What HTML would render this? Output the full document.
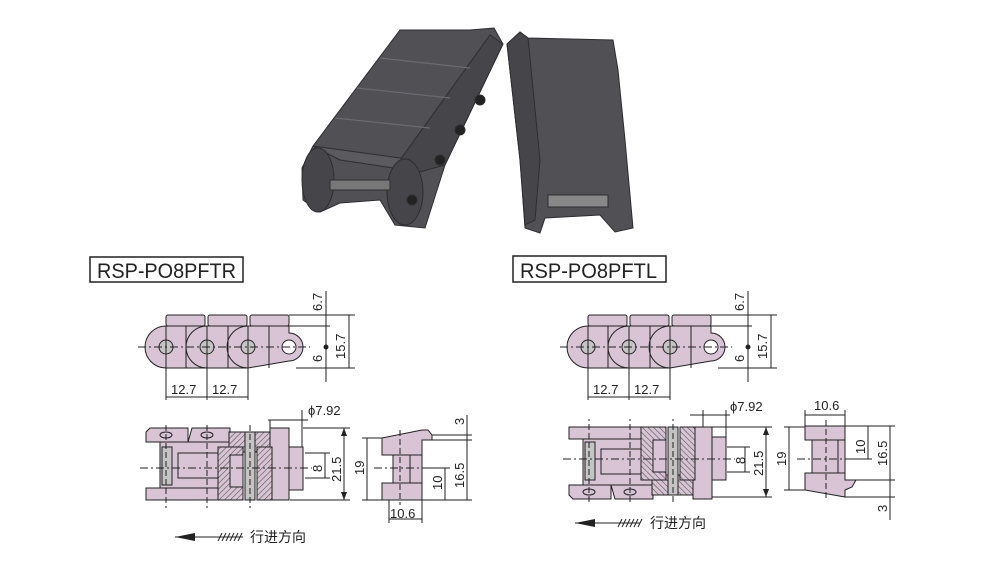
<!DOCTYPE html>
<html><head><meta charset="utf-8"><style>
html,body{margin:0;padding:0;background:#fff;}
svg{display:block;}
text{font-family:"Liberation Sans","Noto Sans CJK SC",sans-serif;fill:#222;}
</style></head><body>
<svg width="1000" height="567" viewBox="0 0 1000 567" xmlns="http://www.w3.org/2000/svg">
<defs>
<pattern id="h" width="4" height="4" patternUnits="userSpaceOnUse" patternTransform="rotate(45)">
<rect width="4" height="4" fill="#d8c4d4"/><line x1="0" y1="0" x2="0" y2="4" stroke="#555" stroke-width="1.2"/>
</pattern>
<marker id="a" markerWidth="8" markerHeight="6" refX="8" refY="3" orient="auto-start-reverse" markerUnits="userSpaceOnUse">
<path d="M0,0 L8,3 L0,6 Z" fill="#222"/></marker>
<g id="top" stroke="#222" stroke-width="1" fill="#d8c4d4">
<rect x="166" y="315" width="39" height="11" rx="2"/>
<rect x="208" y="315" width="39" height="11" rx="2"/>
<rect x="250" y="315" width="39" height="11" rx="2"/>
<path d="M166 326 A21 21 0 0 0 166 368 L207 368 L207 326 Z"/>
<path d="M207 326 A21 21 0 0 0 207 368 L248 368 L248 326 Z"/>
<path d="M248 326 A21 21 0 0 0 248 368 L289 361 A14 14 0 0 0 289 333 L289 326 Z"/>
<line x1="186" y1="326" x2="186" y2="368"/><line x1="228" y1="326" x2="228" y2="368"/><line x1="269" y1="326" x2="269" y2="368"/>
<circle cx="166" cy="347" r="7" fill="#c4c4c4"/><circle cx="207" cy="347" r="7" fill="#c4c4c4"/><circle cx="248" cy="347" r="7" fill="#c4c4c4"/>
<circle cx="289" cy="347" r="7" fill="#fff"/>
<line x1="138" y1="347" x2="310" y2="347" stroke-dasharray="8 3 2 3"/>
<line x1="166" y1="326" x2="166" y2="400"/><line x1="207" y1="326" x2="207" y2="400"/><line x1="248" y1="326" x2="248" y2="400"/>
<line x1="289" y1="315" x2="355" y2="315"/><line x1="289" y1="326" x2="330" y2="326"/><line x1="296" y1="368" x2="355" y2="368"/>
<line x1="326" y1="291" x2="326" y2="382"/><line x1="349" y1="315" x2="349" y2="368"/>
<circle cx="326" cy="347" r="2" fill="#222"/>
<line x1="166" y1="397" x2="248" y2="397"/>
</g>
<g id="bot" stroke="#222" stroke-width="1" fill="#d8c4d4">
<path d="M150 428 L188 428 L188 442 L146 442 L146 432 Z"/>
<path d="M192 428 L230 428 L230 442 L188 442 Z"/>
<rect x="146" y="488" width="84" height="12"/>
<path d="M160 442 L230 442 L230 488 L160 488 Z"/>
<path d="M178 453 L230 453 L230 478 L178 478 Z"/>
<rect x="162" y="447" width="10" height="38" fill="#c4c4c4"/>
<rect x="270" y="428" width="19" height="72"/>
<rect x="289" y="447" width="14" height="43"/>
<rect x="229" y="432" width="41" height="20" fill="url(#h)"/>
<rect x="218" y="447" width="25" height="53" fill="url(#h)"/>
<rect x="257" y="447" width="15" height="53" fill="url(#h)"/>
<rect x="230" y="455" width="13" height="32"/>
<rect x="245" y="432" width="10" height="68" fill="#c4c4c4"/>
<ellipse cx="166" cy="435" rx="6" ry="3"/><ellipse cx="207" cy="435" rx="6" ry="3"/>
<line x1="140" y1="468" x2="312" y2="468" stroke-dasharray="8 3 2 3"/>
<line x1="166" y1="425" x2="166" y2="508" stroke-dasharray="6 3"/><line x1="207" y1="425" x2="207" y2="508" stroke-dasharray="6 3"/><line x1="250" y1="425" x2="250" y2="508" stroke-dasharray="6 3"/>
</g>
<g id="side" stroke="#222" stroke-width="1" fill="#d8c4d4">
<path d="M382 438 L422 430 L428 430 L432 435 L432 440 L422 440 L422 455 L382 455 Z"/>
<rect x="393" y="455" width="29" height="28"/>
<line x1="410" y1="455" x2="410" y2="483"/>
<rect x="382" y="483" width="40" height="17"/>
<line x1="374" y1="468" x2="432" y2="468" stroke-dasharray="8 3 2 3"/>
<line x1="400" y1="430" x2="400" y2="505" stroke-dasharray="6 3"/>
</g>
</defs>

<!-- photo -->
<g fill="#505055" stroke="#2e2e32" stroke-width="1">
<path d="M313 146 L400 30 L470 30 L494 28 L503 44 L445 165 L425 228 L395 225 L380 200 L340 203 L320 212 L303 200 L302 168 Z"/>
<path d="M400 160 L490 35 L503 44 L445 165 L420 172 Z" fill="#46464a"/>
<path d="M313 146 L400 158 L420 172 L340 160 Z" fill="#5a5a5f"/>
<g stroke="#6a6a70" stroke-width="1.2" fill="none">
<line x1="335" y1="118" x2="430" y2="128"/><line x1="357" y1="88" x2="450" y2="98"/><line x1="380" y1="58" x2="470" y2="68"/>
<line x1="525" y1="85" x2="618" y2="78"/><line x1="528" y1="120" x2="622" y2="113"/><line x1="530" y1="155" x2="626" y2="148"/>
</g>
<ellipse cx="318" cy="180" rx="16" ry="32" fill="#45454a"/>
<ellipse cx="405" cy="192" rx="18" ry="33" fill="#45454a"/>
<circle cx="412" cy="200" r="5" fill="#222"/><circle cx="440" cy="160" r="5" fill="#222"/><circle cx="460" cy="130" r="5" fill="#222"/><circle cx="480" cy="100" r="5" fill="#222"/>
<rect x="330" y="180" width="60" height="10" fill="#777"/>
<path d="M507 44 L520 32 L528 38 L613 40 L618 70 L625 140 L633 228 L615 232 L600 215 L545 218 L540 233 L525 228 L520 160 Z"/>
<path d="M507 44 L520 32 L528 38 L540 160 L535 220 L525 225 L520 160 Z" fill="#46464a"/>
<rect x="548" y="195" width="60" height="12" fill="#888"/>
</g>

<!-- titles -->
<rect x="90" y="257" width="153" height="25" fill="none" stroke="#222" stroke-width="1.5"/>
<text x="97" y="278" font-size="21" textLength="139" lengthAdjust="spacingAndGlyphs">RSP-PO8PFTR</text>
<rect x="513" y="256" width="153" height="26" fill="none" stroke="#222" stroke-width="1.5"/>
<text x="520" y="278" font-size="21" textLength="137" lengthAdjust="spacingAndGlyphs">RSP-PO8PFTL</text>

<!-- left drawings -->
<use href="#top"/>
<use href="#bot"/>
<use href="#side"/>
<g font-size="13">
<text transform="translate(322,311) rotate(-90)">6.7</text>
<text transform="translate(322,362) rotate(-90)">6</text>
<text transform="translate(345,359) rotate(-90)">15.7</text>
<text x="171" y="394">12.7</text><text x="212" y="394">12.7</text>
<text x="308" y="415">ϕ7.92</text>
<text transform="translate(322,472) rotate(-90)">8</text>
<text transform="translate(341,482) rotate(-90)">21.5</text>
<text transform="translate(364,475) rotate(-90)">19</text>
<text transform="translate(442,490) rotate(-90)">10</text>
<text transform="translate(464,488) rotate(-90)">16.5</text>
<text transform="translate(464,425) rotate(-90)">3</text>
<text x="390" y="518">10.6</text>
</g>
<g stroke="#222" stroke-width="1" fill="none">
<line x1="268" y1="420" x2="308" y2="420"/><line x1="270" y1="420" x2="270" y2="428"/><line x1="302" y1="410" x2="302" y2="447"/>
<line x1="303" y1="428" x2="350" y2="428"/><line x1="344" y1="428" x2="344" y2="500" marker-start="url(#a)" marker-end="url(#a)"/>
<line x1="290" y1="500" x2="350" y2="500"/>
<line x1="305" y1="453" x2="330" y2="453"/><line x1="305" y1="478" x2="330" y2="478"/><line x1="325" y1="453" x2="325" y2="478"/>
<line x1="367" y1="438" x2="367" y2="500"/><line x1="362" y1="438" x2="382" y2="438"/><line x1="362" y1="500" x2="382" y2="500"/>
<line x1="432" y1="435" x2="472" y2="435"/><line x1="422" y1="440" x2="472" y2="440"/><line x1="422" y1="468" x2="450" y2="468"/><line x1="422" y1="500" x2="472" y2="500"/>
<line x1="467" y1="415" x2="467" y2="500"/><line x1="445" y1="468" x2="445" y2="500"/>
<line x1="389" y1="500" x2="389" y2="523"/><line x1="422" y1="500" x2="422" y2="523"/><line x1="389" y1="519" x2="422" y2="519"/>
<line x1="175" y1="537" x2="243" y2="537"/>
</g>
<path d="M175 537 L195 533 L195 541 Z" fill="#222"/>
<g stroke="#222" stroke-width="1"><line x1="218" y1="541" x2="222" y2="533"/><line x1="222" y1="541" x2="226" y2="533"/><line x1="226" y1="541" x2="230" y2="533"/><line x1="230" y1="541" x2="234" y2="533"/><line x1="234" y1="541" x2="238" y2="533"/><line x1="238" y1="541" x2="242" y2="533"/></g>
<text x="250" y="542" font-size="14">行进方向</text>

<!-- right drawings -->
<use href="#top" transform="translate(422,0)"/>
<use href="#bot" transform="translate(423,927) scale(1,-1)"/>
<g stroke="#222" stroke-width="1" fill="#d8c4d4">
<path d="M805 426 L845 426 L845 440 L805 440 Z"/>
<rect x="812" y="440" width="33" height="33"/>
<line x1="838" y1="440" x2="838" y2="473"/>
<path d="M805 473 L845 473 L845 480 L856 480 L852 487 L845 490 L845 497 L805 490 Z"/>
<line x1="797" y1="459" x2="855" y2="459" stroke-dasharray="8 3 2 3"/>
<line x1="826" y1="420" x2="826" y2="500" stroke-dasharray="6 3"/>
</g>
<g font-size="13">
<text transform="translate(744,311) rotate(-90)">6.7</text>
<text transform="translate(744,362) rotate(-90)">6</text>
<text transform="translate(767,359) rotate(-90)">15.7</text>
<text x="593" y="394">12.7</text><text x="634" y="394">12.7</text>
<text x="730" y="411">ϕ7.92</text>
<text transform="translate(745,464) rotate(-90)">8</text>
<text transform="translate(763,476) rotate(-90)">21.5</text>
<text transform="translate(786,466) rotate(-90)">19</text>
<text transform="translate(865,454) rotate(-90)">10</text>
<text transform="translate(887,466) rotate(-90)">16.5</text>
<text transform="translate(887,512) rotate(-90)">3</text>
<text x="814" y="410">10.6</text>
</g>
<g stroke="#222" stroke-width="1" fill="none">
<line x1="690" y1="415" x2="730" y2="415"/><line x1="703" y1="410" x2="703" y2="427"/><line x1="726" y1="410" x2="726" y2="447"/>
<line x1="712" y1="427" x2="772" y2="427"/><line x1="766" y1="427" x2="766" y2="497" marker-start="url(#a)" marker-end="url(#a)"/>
<line x1="712" y1="497" x2="772" y2="497"/>
<line x1="727" y1="447" x2="750" y2="447"/><line x1="727" y1="472" x2="750" y2="472"/><line x1="745" y1="447" x2="745" y2="472"/>
<line x1="789" y1="427" x2="789" y2="490"/><line x1="784" y1="427" x2="805" y2="427"/><line x1="784" y1="490" x2="805" y2="490"/>
<line x1="845" y1="426" x2="895" y2="426"/><line x1="845" y1="459" x2="872" y2="459"/><line x1="856" y1="480" x2="895" y2="480"/><line x1="845" y1="497" x2="895" y2="497"/>
<line x1="890" y1="426" x2="890" y2="520"/><line x1="868" y1="426" x2="868" y2="459"/>
<line x1="805" y1="410" x2="805" y2="426"/><line x1="845" y1="410" x2="845" y2="426"/><line x1="805" y1="415" x2="845" y2="415"/>
<line x1="575" y1="523" x2="640" y2="523"/>
</g>
<path d="M575 523 L595 519 L595 527 Z" fill="#222"/>
<g stroke="#222" stroke-width="1"><line x1="618" y1="527" x2="622" y2="519"/><line x1="622" y1="527" x2="626" y2="519"/><line x1="626" y1="527" x2="630" y2="519"/><line x1="630" y1="527" x2="634" y2="519"/><line x1="634" y1="527" x2="638" y2="519"/><line x1="638" y1="527" x2="642" y2="519"/></g>
<text x="650" y="528" font-size="14">行进方向</text>
</svg>
</body></html>
